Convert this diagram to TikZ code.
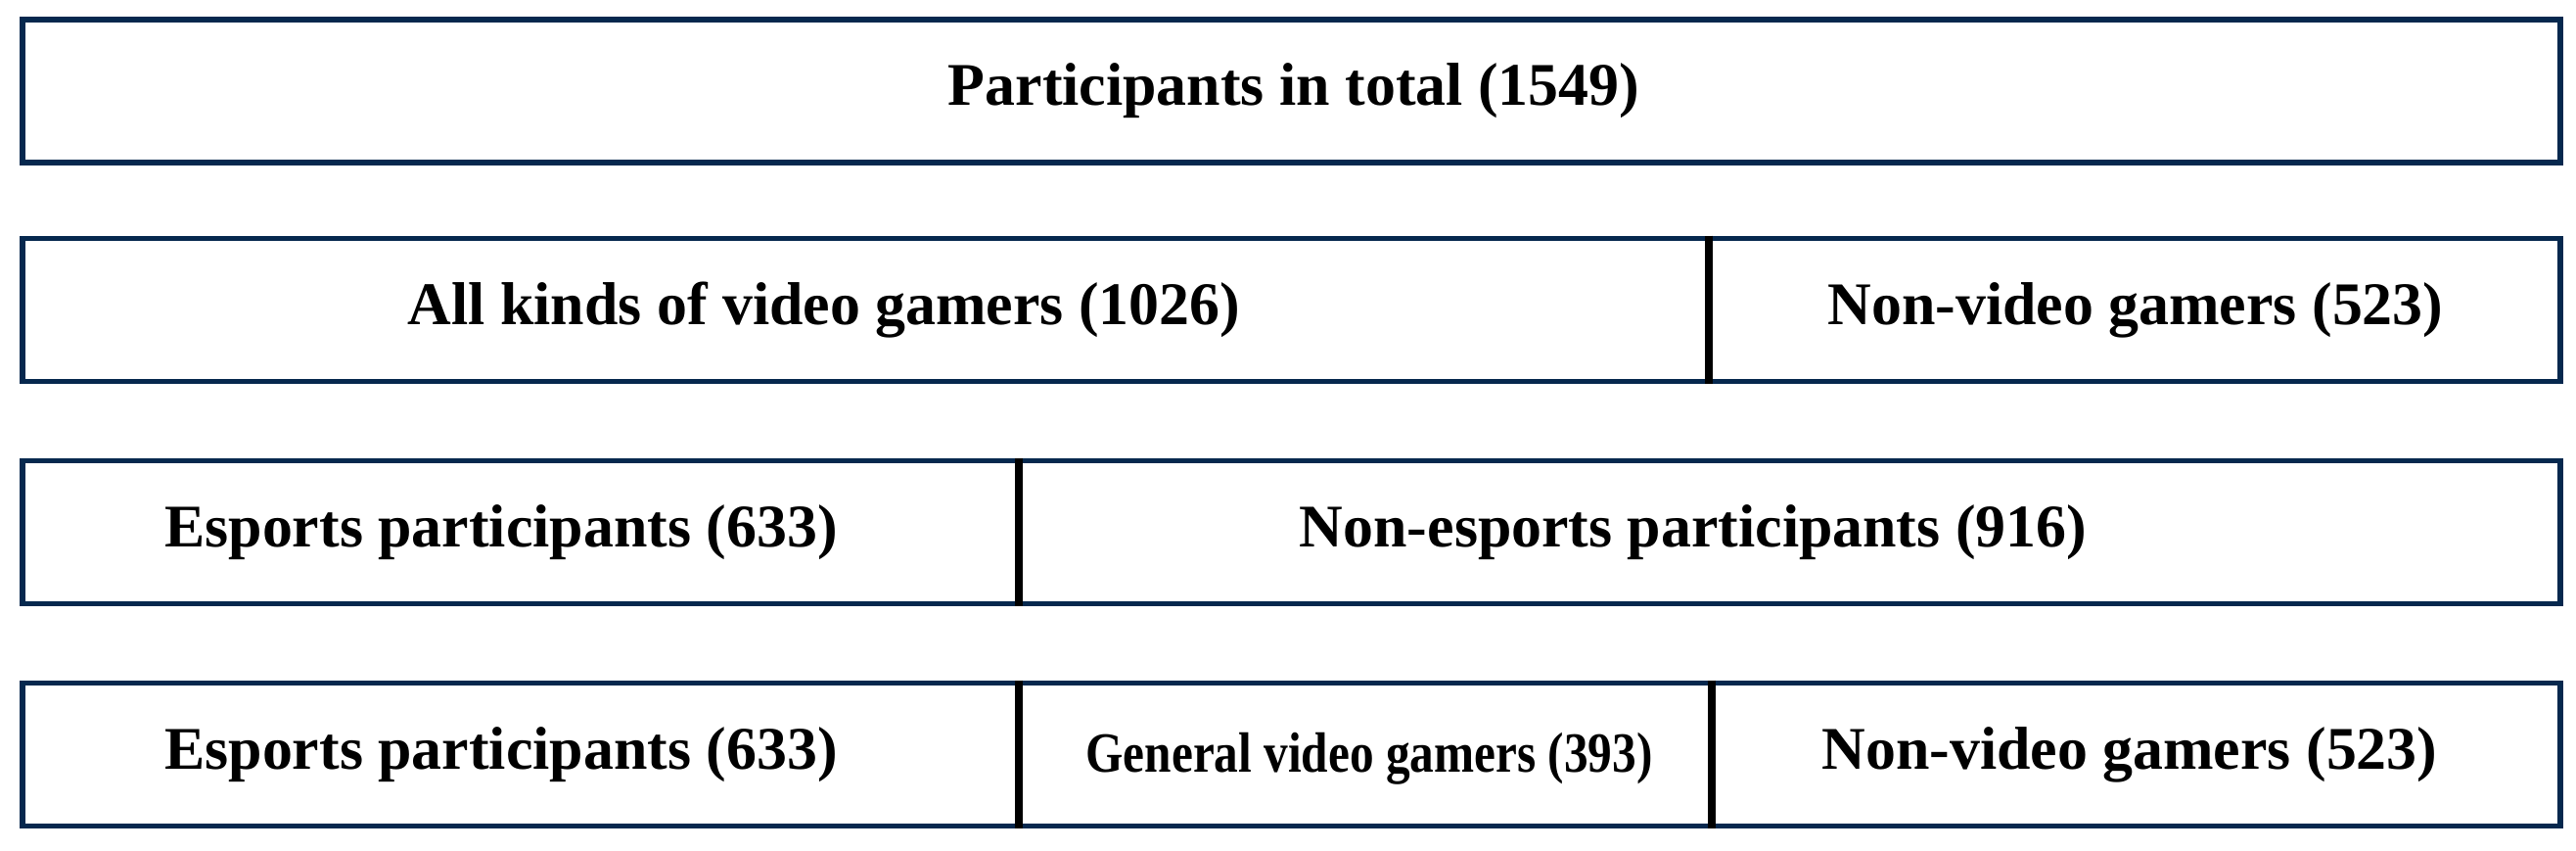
\documentclass[tikz,border=0pt]{standalone}
\usepackage{fontspec}
\setmainfont{Liberation Serif}
\definecolor{navy}{RGB}{6,40,78}
\begin{document}
\begin{tikzpicture}[
  rowbox/.style={draw=navy, line width=1.7pt, fill=white, minimum width=25.93cm, minimum height=1.46cm, inner sep=0pt},
  lbl/.style={font=\fontsize{17.6}{20}\selectfont\bfseries, inner sep=0pt, text=black},
  smalllbl/.style={font=\fontsize{16.5}{18}\selectfont\bfseries, inner sep=0pt, text=black, xscale=0.85},
  divider/.style={draw=black, line width=2.3pt}
]
\fill[white] (0,0) rectangle (26.32,8.68);
\useasboundingbox (0,0) rectangle (26.32,8.68);
% rows
\node[rowbox] (r1) at (13.195,7.75) {};
\node[rowbox] (r2) at (13.195,5.515) {};
\node[rowbox] (r3) at (13.195,3.245) {};
\node[rowbox] (r4) at (13.195,0.975) {};
% divider positions
\coordinate (d2) at (17.46,0);
\coordinate (d3) at (10.41,0);
\coordinate (d4a) at (10.41,0);
\coordinate (d4b) at (17.49,0);
\draw[divider] (r2.north -| d2) -- (r2.south -| d2);
\draw[divider] (r3.north -| d3) -- (r3.south -| d3);
\draw[divider] (r4.north -| d4a) -- (r4.south -| d4a);
\draw[divider] (r4.north -| d4b) -- (r4.south -| d4b);
% labels
\node[lbl] (t1) at (13.22,7.75) {Participants in total (1549)};
\node[lbl] (t2a) at (8.42,5.515) {All kinds of video gamers (1026)};
\node[lbl] (t2b) at (21.82,5.515) {Non-video gamers (523)};
\node[lbl] (t3a) at (5.12,3.245) {Esports participants (633)};
\node[lbl] (t3b) at (17.30,3.245) {Non-esports participants (916)};
\node[lbl] (t4a) at (5.12,0.975) {Esports participants (633)};
\node[smalllbl] (t4b) at (13.99,0.93) {General video gamers (393)};
\node[lbl] (t4c) at (21.76,0.975) {Non-video gamers (523)};
\end{tikzpicture}
\end{document}
